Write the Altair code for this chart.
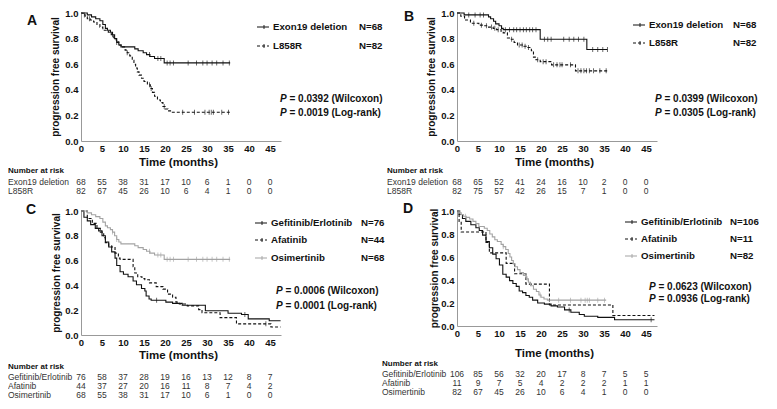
import altair as alt
import pandas as pd

# ------------------------------------------------------------------ data
TIME_TICKS = [0, 5, 10, 15, 20, 25, 30, 35, 40, 45]
SURV_TICKS = [0.0, 0.2, 0.4, 0.6, 0.8, 1.0]
P_TESTS = ["(Wilcoxon)", "(Log-rank)"]

# Panel A : Exon19 deletion vs L858R
A_EXON_T = [0, 1.5, 2.5, 3.5, 4.5, 5.2, 5.8, 6.3, 7.0, 7.5, 8.0, 8.5, 9.0, 9.5, 12.8, 13.6, 14.8, 15.6, 16.4, 17.5, 19.8, 35.5]
A_EXON_S = [1.0, 0.985, 0.97, 0.955, 0.94, 0.91, 0.88, 0.865, 0.85, 0.83, 0.80, 0.77, 0.75, 0.735, 0.72, 0.705, 0.69, 0.675, 0.66, 0.645, 0.61, 0.61]
A_EXON_CENSOR = [7.5, 8.5, 16.3, 18.3, 19.0, 20.5, 21.2, 22.0, 25.5, 27.5, 29.0, 30.0, 31.2, 32.3, 33.8, 35.3]
A_L858_T = [0, 0.5, 1.0, 1.5, 2.2, 3.0, 3.8, 4.5, 5.2, 6.5, 7.2, 7.8, 8.4, 9.0, 9.6, 10.5, 11.0, 11.6, 12.2, 12.6, 13.0, 13.4, 13.8, 14.4, 15.0, 15.8, 16.5, 17.0, 17.5, 18.2, 18.9, 19.5, 20.0, 20.7, 21.5, 35.5]
A_L858_S = [1.0, 0.985, 0.97, 0.955, 0.945, 0.93, 0.91, 0.89, 0.865, 0.85, 0.83, 0.80, 0.775, 0.75, 0.735, 0.71, 0.69, 0.665, 0.63, 0.60, 0.57, 0.54, 0.515, 0.49, 0.465, 0.44, 0.41, 0.38, 0.35, 0.32, 0.30, 0.27, 0.25, 0.235, 0.225, 0.225]
A_L858_CENSOR = [0.8, 2.0, 11.0, 16.3, 16.7, 19.8, 24.2, 27.0, 29.5, 30.5, 31.0, 31.5, 33.5, 35.1]
A_NAMES = ["Exon19 deletion", "L858R"]
A_N = [68, 82]
A_RISK = [[68, 55, 38, 31, 17, 10, 6, 1, 0, 0], [82, 67, 45, 26, 10, 6, 4, 1, 0, 0]]
A_P = ["0.0392", "0.0019"]

# Panel B : Exon19 deletion vs L858R
B_EXON_T = [0, 1.7, 7.5, 8.0, 8.7, 9.2, 10.0, 10.6, 11.0, 19.8, 30.9, 35.8]
B_EXON_S = [1.0, 0.985, 0.97, 0.955, 0.935, 0.915, 0.90, 0.88, 0.87, 0.795, 0.715, 0.715]
B_EXON_CENSOR = [2.8, 4.3, 5.5, 6.3, 11.5, 12.5, 13.5, 14.2, 15.0, 15.8, 16.5, 17.3, 18.0, 18.8, 20.8, 21.6, 22.4, 25.4, 26.7, 27.8, 28.9, 30.2, 32.3, 33.5, 34.7, 35.8]
B_L858_T = [0, 0.9, 1.8, 3.2, 5.2, 6.4, 7.5, 8.6, 9.4, 10.5, 11.0, 12.0, 12.7, 13.6, 14.4, 15.9, 16.6, 17.7, 18.2, 18.8, 19.8, 22.5, 28.2, 35.9]
B_L858_S = [1.0, 0.975, 0.945, 0.92, 0.905, 0.90, 0.89, 0.88, 0.87, 0.855, 0.845, 0.805, 0.795, 0.77, 0.75, 0.74, 0.73, 0.705, 0.655, 0.635, 0.62, 0.595, 0.548, 0.548]
B_L858_CENSOR = [4.0, 5.8, 7.0, 8.2, 9.0, 9.8, 13.0, 14.8, 15.5, 16.2, 17.0, 19.2, 20.5, 21.2, 23.0, 23.8, 24.5, 25.0, 27.0, 28.8, 29.5, 30.2, 30.8, 31.5, 32.5, 34.0, 35.5]
B_NAMES = ["Exon19 deletion", "L858R"]
B_N = [68, 82]
B_RISK = [[68, 65, 52, 41, 24, 16, 10, 2, 0, 0], [82, 75, 57, 42, 26, 15, 7, 1, 0, 0]]
B_P = ["0.0399", "0.0305"]

# Panel C : Exon19 deletion patients by TKI
C_GEF_T = [0, 0.7, 1.5, 2.3, 3.4, 4.2, 5.0, 5.8, 6.6, 7.3, 8.1, 8.5, 9.3, 10.1, 11.2, 12.4, 13.2, 14.4, 15.2, 15.5, 16.2, 16.7, 20.2, 21.8, 24.1, 29.6, 35.0, 38.2, 39.8, 44.8, 47.5]
C_GEF_S = [1.0, 0.95, 0.92, 0.89, 0.86, 0.84, 0.80, 0.75, 0.71, 0.67, 0.62, 0.56, 0.51, 0.49, 0.47, 0.435, 0.405, 0.375, 0.355, 0.315, 0.29, 0.28, 0.265, 0.255, 0.24, 0.195, 0.175, 0.165, 0.13, 0.115, 0.115]
C_GEF_CENSOR = [18.0, 39.0]
C_AFA_T = [0, 1.5, 2.7, 3.8, 4.6, 5.4, 5.8, 6.6, 7.3, 8.1, 8.9, 9.3, 12.4, 12.8, 13.5, 14.5, 15.2, 16.3, 17.9, 19.5, 20.6, 21.8, 22.6, 23.4, 25.3, 28.0, 28.8, 33.1, 37.0, 45.2, 47.5]
C_AFA_S = [1.0, 0.94, 0.90, 0.86, 0.83, 0.785, 0.745, 0.72, 0.71, 0.66, 0.62, 0.61, 0.55, 0.50, 0.47, 0.455, 0.445, 0.42, 0.39, 0.37, 0.33, 0.305, 0.265, 0.25, 0.235, 0.205, 0.18, 0.14, 0.09, 0.065, 0.065]
C_AFA_CENSOR = [44.0]
C_NAMES = ["Gefitinib/Erlotinib", "Afatinib", "Osimertinib"]
C_N = [76, 44, 68]
C_RISK = [[76, 58, 37, 28, 19, 16, 13, 12, 8, 7], [44, 37, 27, 20, 16, 11, 8, 7, 4, 2], [68, 55, 38, 31, 17, 10, 6, 1, 0, 0]]
C_P = ["0.0006", "0.0001"]

# Panel D : L858R patients by TKI
D_GEF_T = [0, 0.5, 1.3, 2.1, 3.3, 4.5, 5.3, 6.1, 6.9, 7.7, 8.5, 9.3, 10.1, 10.9, 11.7, 12.5, 13.3, 14.1, 14.8, 15.6, 16.4, 17.2, 18.0, 19.2, 20.8, 22.4, 23.9, 25.6, 27.1, 29.1, 30.3, 33.5, 37.5, 47.0]
D_GEF_S = [1.0, 0.97, 0.935, 0.91, 0.88, 0.855, 0.83, 0.79, 0.735, 0.68, 0.625, 0.585, 0.53, 0.45, 0.425, 0.395, 0.37, 0.345, 0.305, 0.29, 0.265, 0.25, 0.225, 0.20, 0.19, 0.175, 0.165, 0.14, 0.12, 0.10, 0.085, 0.075, 0.055, 0.055]
D_GEF_CENSOR = [26.7, 46.2]
D_AFA_T = [0, 0.5, 1.0, 6.9, 7.7, 11.7, 13.7, 16.4, 22.0, 37.1, 47.0]
D_AFA_S = [1.0, 0.909, 0.818, 0.727, 0.636, 0.545, 0.455, 0.364, 0.182, 0.091, 0.091]
D_AFA_CENSOR = []
D_NAMES = ["Gefitinib/Erlotinib", "Afatinib", "Osimertinib"]
D_N = [106, 11, 82]
D_RISK = [[106, 85, 56, 32, 20, 17, 8, 7, 5, 5], [11, 9, 7, 5, 4, 2, 2, 2, 1, 1], [82, 67, 45, 26, 10, 6, 4, 1, 0, 0]]
D_P = ["0.0623", "0.0936"]

# ------------------------------------------------------------------ style / layout
FONT = "Liberation Sans"
BLACK = "#111111"
GREY = "#a3a3a3"
SOLID = [1, 0]
DASHED = [3, 2]
XMAX = 47.6
PW = 200  # plot width

LAYOUT = {
    "A": dict(H=128, letter=(-49, 8), ytx=-25, sym=176, txt=192, nx=278, ly=[14, 33], px=199, py=[86, 100],
              xt=22, hdr=30, rows=[41, 50], lab=-73),
    "B": dict(H=128, letter=(-48, 4), ytx=-25, sym=176, txt=192, nx=276, ly=[12, 30], px=198, py=[86, 100],
              xt=22, hdr=30, rows=[41, 50], lab=-70),
    "C": dict(H=124, letter=(-50, -1), ytx=-24, sym=174, txt=190, nx=280, ly=[12, 29, 47], px=195, py=[80, 95],
              xt=21, hdr=32, rows=[42, 51, 60], lab=-73),
    "D": dict(H=115, letter=(-49, -2), ytx=-22, sym=168, txt=184, nx=273, ly=[11, 28, 45], px=192, py=[76, 88],
              xt=28, hdr=38, rows=[48, 57, 66], lab=-75),
}

ONE = pd.DataFrame({"k": [0]})


def surv_at(ts, ss, c):
    v = ss[0]
    for t, s in zip(ts, ss):
        if t <= c:
            v = s
    return v


def text_mark(x, y, txt, size, weight="normal", style="normal", align="left", color=BLACK, angle=0):
    return alt.Chart(ONE).mark_text(
        font=FONT, fontSize=size, fontWeight=weight, fontStyle=style, align=align,
        baseline="middle", color=color, angle=angle
    ).encode(x=alt.value(x), y=alt.value(y), text=alt.value(txt))


def panel(letter, groups, names, ns, risk, pvals):
    L = LAYOUT[letter]
    H = L["H"]
    colors = [g["color"] for g in groups]
    dashes = [g["dash"] for g in groups]

    xsc = alt.Scale(domain=[0, XMAX], nice=False, zero=False)
    ysc = alt.Scale(domain=[0, 1], nice=False)
    xax = alt.Axis(values=TIME_TICKS, title=None, ticks=False, grid=False, labelFlush=False,
                   labelOverlap=False, labelFont=FONT, labelFontSize=9.5, labelFontWeight="bold",
                   labelColor=BLACK, labelPadding=2, domainColor="#999999", domainWidth=1)
    yax = alt.Axis(values=SURV_TICKS, format=".1f", title=None, ticks=False, grid=False, labelFlush=False,
                   labelOverlap=False, labelFont=FONT, labelFontSize=9.5, labelFontWeight="bold",
                   labelColor=BLACK, labelPadding=3, domainColor="#999999", domainWidth=1)
    cscale = alt.Scale(domain=names, range=colors)
    dscale = alt.Scale(domain=names, range=dashes)

    step_rows, cens_rows = [], []
    for name, g in zip(names, groups):
        for t, s in zip(g["t"], g["s"]):
            step_rows.append({"g": name, "t": t, "s": s})
        for c in g["c"]:
            cens_rows.append({"g": name, "t": c, "s": surv_at(g["t"], g["s"], c)})
    steps = pd.DataFrame(step_rows)
    cens = pd.DataFrame(cens_rows)

    layers = []
    layers.append(alt.Chart(steps).mark_line(interpolate="step-after", strokeWidth=1.1).encode(
        x=alt.X("t:Q", scale=xsc, axis=xax),
        y=alt.Y("s:Q", scale=ysc, axis=yax),
        color=alt.Color("g:N", scale=cscale, legend=None),
        strokeDash=alt.StrokeDash("g:N", scale=dscale, legend=None),
    ))
    layers.append(alt.Chart(cens).mark_tick(orient="vertical", size=5, thickness=0.9).encode(
        x=alt.X("t:Q", scale=xsc, axis=xax),
        y=alt.Y("s:Q", scale=ysc, axis=yax),
        color=alt.Color("g:N", scale=cscale, legend=None),
    ))

    # legend
    for i, (name, n, col, dash) in enumerate(zip(names, ns, colors, dashes)):
        y = L["ly"][i]
        layers.append(alt.Chart(ONE).mark_rule(color=col, strokeWidth=1.1, strokeDash=dash).encode(
            x=alt.value(L["sym"]), x2=alt.value(L["sym"] + 12), y=alt.value(y)))
        layers.append(alt.Chart(ONE).mark_rule(color=col, strokeWidth=0.9).encode(
            x=alt.value(L["sym"] + 7), y=alt.value(y - 2), y2=alt.value(y + 2)))
        layers.append(text_mark(L["txt"], y, name, 9.7, "bold"))
        layers.append(text_mark(L["nx"], y, f"N={n}", 9.7, "bold"))

    # p values
    for pv, test, y in zip(pvals, P_TESTS, L["py"]):
        layers.append(text_mark(L["px"], y, "P", 10, "bold", "italic"))
        layers.append(text_mark(L["px"] + 9.5, y, f"= {pv} {test}", 10, "bold"))

    # titles and panel letter
    layers.append(text_mark(L["ytx"], H / 2, "progression free survival", 10, "bold", align="center", angle=270))
    layers.append(text_mark(PW * 45 / XMAX / 2 + 3, H + L["xt"], "Time (months)", 11.5, "bold", align="center"))
    layers.append(text_mark(L["letter"][0], L["letter"][1], letter, 14, "bold", align="center"))

    # number at risk table
    layers.append(text_mark(L["lab"], H + L["hdr"], "Number at risk", 8, "bold"))
    for i, (name, counts) in enumerate(zip(names, risk)):
        y = H + L["rows"][i]
        layers.append(text_mark(L["lab"], y, name, 8.5, color="#333333"))
        rdf = pd.DataFrame({"t": TIME_TICKS, "n": [str(v) for v in counts]})
        layers.append(alt.Chart(rdf).mark_text(font=FONT, fontSize=8.5, color="#333333",
                                               align="center", baseline="middle").encode(
            x=alt.X("t:Q", scale=xsc, axis=xax), y=alt.value(y), text="n:N"))

    return alt.layer(*layers).properties(width=PW, height=H)


grpA = [dict(t=A_EXON_T, s=A_EXON_S, c=A_EXON_CENSOR, color=BLACK, dash=SOLID),
        dict(t=A_L858_T, s=A_L858_S, c=A_L858_CENSOR, color=BLACK, dash=DASHED)]
grpB = [dict(t=B_EXON_T, s=B_EXON_S, c=B_EXON_CENSOR, color=BLACK, dash=SOLID),
        dict(t=B_L858_T, s=B_L858_S, c=B_L858_CENSOR, color=BLACK, dash=DASHED)]
# Osimertinib curves in C and D are the same cohorts as panel A
grpC = [dict(t=C_GEF_T, s=C_GEF_S, c=C_GEF_CENSOR, color=BLACK, dash=SOLID),
        dict(t=C_AFA_T, s=C_AFA_S, c=C_AFA_CENSOR, color=BLACK, dash=DASHED),
        dict(t=A_EXON_T, s=A_EXON_S, c=A_EXON_CENSOR, color=GREY, dash=SOLID)]
grpD = [dict(t=D_GEF_T, s=D_GEF_S, c=D_GEF_CENSOR, color=BLACK, dash=SOLID),
        dict(t=D_AFA_T, s=D_AFA_S, c=D_AFA_CENSOR, color=BLACK, dash=DASHED),
        dict(t=A_L858_T, s=A_L858_S, c=A_L858_CENSOR, color=GREY, dash=SOLID)]

pA = panel("A", grpA, A_NAMES, A_N, A_RISK, A_P)
pB = panel("B", grpB, B_NAMES, B_N, B_RISK, B_P)
pC = panel("C", grpC, C_NAMES, C_N, C_RISK, C_P)
pD = panel("D", grpD, D_NAMES, D_N, D_RISK, D_P)

chart = alt.concat(pA, pB, pC, pD, columns=2, spacing={"row": 70, "column": 176}, bounds="flush").resolve_scale(
    color="independent", strokeDash="independent"
).properties(
    padding=0, background="white"
).configure_view(stroke=None)

chart.save("out.html", embed_options={"renderer": "svg", "actions": False})
